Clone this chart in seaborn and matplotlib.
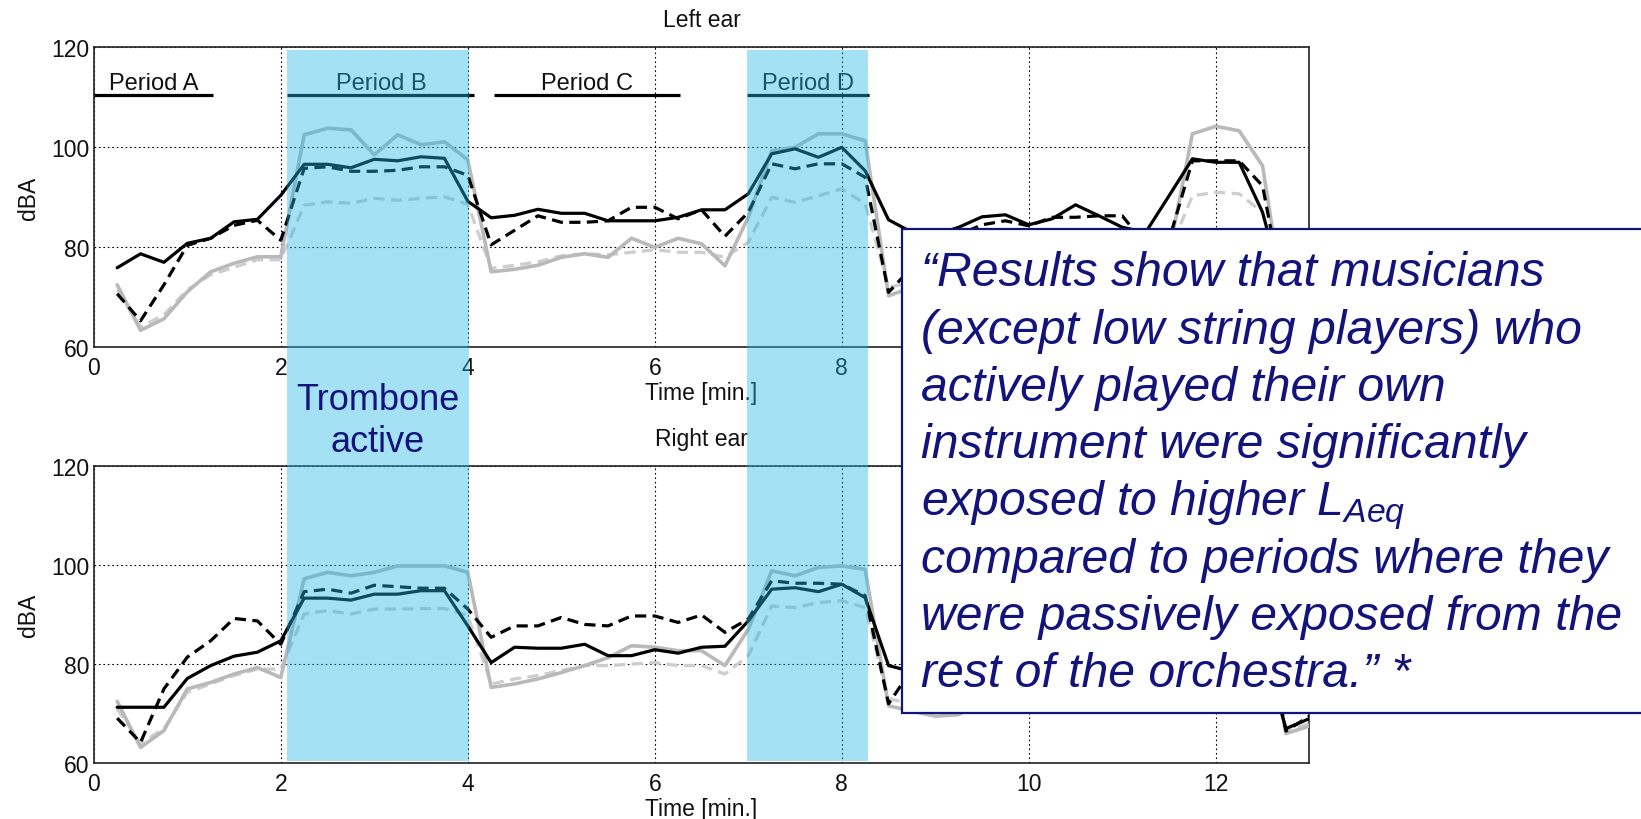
import numpy as np
import matplotlib
matplotlib.use("Agg")
import matplotlib.pyplot as plt
import seaborn as sns
from matplotlib.patches import Rectangle
from matplotlib.transforms import blended_transform_factory

sns.set_style("white")
plt.rcParams["font.family"] = ["Liberation Sans", "DejaVu Sans"]
plt.rcParams["mathtext.fontset"] = "custom"
plt.rcParams["mathtext.it"] = "Liberation Sans:italic"
plt.rcParams["mathtext.rm"] = "Liberation Sans"

# ---- data: sound level (dBA) every 15 s, 0.25 ... 13.0 min ----
time_min = np.arange(1, 53) * 0.25

left_black_solid = [
    75.9, 78.7, 77.0, 80.8, 81.8, 85.1, 85.6, 90.4, 96.6, 96.6, 95.9, 97.6, 97.3,
    98.1, 97.8, 89.2, 85.9, 86.4, 87.6, 86.8, 86.8, 85.3, 85.3, 85.3, 86.0, 87.5,
    87.5, 90.7, 98.7, 99.7, 98.0, 100.0, 95.3, 85.5, 83.0, 82.5, 84.0, 86.1, 86.5,
    84.5, 85.7, 88.5, 86.3, 84.0, 83.0, 90.3, 97.7, 97.0, 97.0, 87.0, 69.5, 70.0]
left_black_dashed = [
    70.7, 65.3, 72.5, 80.4, 81.8, 84.4, 85.4, 81.4, 95.8, 96.1, 95.2, 95.2, 95.4,
    96.1, 96.1, 94.4, 80.5, 83.4, 86.3, 85.0, 85.0, 85.3, 88.0, 88.0, 85.7, 87.5,
    82.2, 87.0, 96.7, 95.7, 96.7, 96.7, 94.0, 71.0, 76.0, 80.0, 82.5, 84.5, 85.3,
    84.3, 86.0, 86.0, 86.3, 86.3, 80.5, 81.5, 97.3, 97.3, 97.3, 92.3, 68.0, 69.0]
left_grey_solid = [
    72.5, 63.4, 65.7, 71.1, 75.1, 76.8, 78.1, 78.1, 102.5, 103.8, 103.5, 98.5, 102.5,
    100.5, 101.1, 97.5, 75.1, 75.6, 76.4, 78.0, 78.7, 78.0, 81.8, 80.0, 81.8, 80.7,
    76.3, 86.0, 99.3, 100.0, 102.7, 102.7, 101.3, 70.3, 72.0, 75.0, 77.0, 78.0, 79.0,
    78.0, 79.0, 80.0, 79.0, 78.0, 77.0, 79.0, 102.7, 104.2, 103.3, 96.3, 66.5, 68.0]
left_grey_dashed = [
    71.5, 64.1, 66.5, 71.5, 74.5, 76.0, 77.5, 77.5, 88.4, 89.1, 88.8, 89.8, 89.4,
    89.8, 90.1, 88.6, 75.8, 76.4, 77.1, 78.3, 78.7, 78.5, 79.0, 79.5, 79.0, 79.0,
    78.0, 81.0, 90.0, 89.0, 90.3, 91.7, 88.7, 72.0, 73.0, 75.5, 77.0, 78.0, 78.5,
    78.0, 78.5, 79.0, 78.5, 78.0, 77.5, 79.0, 90.3, 91.0, 90.7, 87.0, 67.0, 68.0]

right_black_solid = [
    71.3, 71.3, 71.3, 77.1, 79.7, 81.6, 82.4, 84.7, 93.3, 93.3, 92.9, 94.1, 94.1,
    94.8, 94.8, 87.7, 80.3, 83.4, 83.2, 83.2, 84.0, 81.7, 81.7, 82.9, 82.2, 83.4,
    83.6, 88.7, 95.1, 95.4, 94.6, 96.1, 93.4, 79.7, 78.5, 79.0, 80.5, 82.0, 82.5,
    81.5, 82.0, 84.0, 83.0, 81.5, 80.0, 86.0, 94.0, 94.5, 94.0, 84.0, 67.0, 69.0]
right_black_dashed = [
    69.1, 64.2, 75.0, 81.4, 84.7, 89.2, 88.7, 84.0, 94.6, 95.1, 94.3, 95.9, 95.6,
    95.3, 95.3, 91.1, 85.4, 87.7, 87.7, 89.4, 88.0, 87.7, 89.7, 89.7, 88.4, 89.9,
    86.4, 89.1, 96.8, 96.3, 96.3, 96.1, 93.8, 72.0, 79.0, 81.0, 84.0, 86.0, 86.5,
    85.5, 87.0, 87.5, 87.5, 87.0, 82.0, 84.0, 95.0, 95.5, 95.0, 90.0, 66.5, 69.5]
right_grey_solid = [
    72.5, 63.2, 66.6, 75.0, 76.3, 78.0, 79.3, 77.3, 97.2, 98.5, 97.8, 98.5, 99.8,
    99.8, 99.8, 98.5, 75.3, 76.0, 77.0, 78.3, 79.7, 81.3, 83.7, 83.4, 82.7, 82.7,
    79.7, 87.0, 98.8, 97.8, 99.5, 99.8, 99.1, 71.6, 70.5, 69.5, 69.8, 72.5, 74.0,
    74.5, 75.0, 76.0, 75.5, 75.0, 74.5, 78.0, 98.0, 99.0, 98.5, 92.0, 66.0, 67.5]
right_grey_dashed = [
    71.0, 64.0, 67.0, 74.3, 76.0, 77.7, 79.0, 79.0, 90.1, 90.8, 90.1, 91.1, 91.1,
    91.2, 91.2, 89.8, 76.0, 77.0, 77.7, 78.7, 79.7, 79.7, 80.0, 80.3, 79.7, 79.7,
    78.0, 81.7, 91.7, 91.4, 92.4, 92.8, 91.4, 73.0, 72.0, 71.5, 72.0, 74.0, 75.0,
    75.5, 76.0, 76.5, 76.0, 75.5, 75.0, 78.0, 90.0, 91.0, 90.5, 86.0, 66.5, 68.0]

period_labels = ["Period A", "Period B", "Period C", "Period D"]
period_start = [0.0, 2.07, 4.28, 6.99]
period_end = [1.28, 4.07, 6.27, 8.29]
period_level = 110.5

active_start = [2.07, 6.99]
active_end = [4.01, 8.28]

x_ticks = [0, 2, 4, 6, 8, 10, 12]
y_ticks = [60, 80, 100, 120]

quote_lines = [
    "\u201cResults show that musicians",
    "(except low string players) who",
    "actively played their own",
    "instrument were significantly",
    "exposed to higher $L_{Aeq}$",
    "compared to periods where they",
    "were passively exposed from the",
    "rest of the orchestra.\u201d *",
]

# ---- figure ----
W, H = 1641, 820
fig = plt.figure(figsize=(W / 100, H / 100), dpi=100)
fig.patch.set_facecolor("white")

ax_l = fig.add_axes([93.8 / W, 1 - 348.3 / H, 1215.5 / W, 300 / H])
ax_r = fig.add_axes([93.8 / W, 1 - 764.3 / H, 1215.5 / W, 297.6 / H])

navy = "#13137c"
grey1 = "#b9b9b9"
grey2 = "#cdcdcd"


def draw_panel(ax, title, black_solid, black_dashed, grey_solid, grey_dashed):
    sns.lineplot(x=time_min, y=grey_dashed, ax=ax, color=grey2, lw=2.3,
                 linestyle=(0, (3.5, 2.0)), zorder=3)
    sns.lineplot(x=time_min, y=grey_solid, ax=ax, color=grey1, lw=2.6, zorder=3)
    sns.lineplot(x=time_min, y=black_dashed, ax=ax, color="black", lw=2.3,
                 linestyle=(0, (3.5, 2.0)), zorder=4)
    sns.lineplot(x=time_min, y=black_solid, ax=ax, color="black", lw=2.3, zorder=5)
    ax.set_xlim(0, 13)
    ax.set_ylim(60, 120)
    ax.set_xticks(x_ticks)
    ax.set_yticks(y_ticks)
    ax.grid(True, color="black", lw=0.8, linestyle=(0, (1.5, 2.5)))
    for s in ax.spines.values():
        s.set_visible(True)
        s.set_color("#222222")
        s.set_linewidth(1.2)
    ax.tick_params(direction="in", length=5, width=1, labelsize=16.5,
                   colors="#111111")
    ax.tick_params(axis="x", pad=6)
    ax.tick_params(axis="y", pad=3)
    ax.set_xlabel("Time [min.]", fontsize=16.5, labelpad=2, color="#111111")
    ax.set_ylabel("dBA", fontsize=16.5, labelpad=8, color="#111111")
    ax.set_title(title, fontsize=16.5, pad=15, color="#111111")


draw_panel(ax_l, "Left ear", left_black_solid, left_black_dashed,
           left_grey_solid, left_grey_dashed)
draw_panel(ax_r, "Right ear", right_black_solid, right_black_dashed,
           right_grey_solid, right_grey_dashed)

# the quotation box sits over the upper panel's 10 and 12 labels
for lbl, tick in zip(ax_l.get_xticklabels(), x_ticks):
    if tick >= 10:
        lbl.set_visible(False)

# period bars with labels above them
for lab, a, b in zip(period_labels, period_start, period_end):
    ax_l.plot([a, b], [period_level, period_level], color="black", lw=2.3,
              solid_capstyle="butt", zorder=6, clip_on=False)
    ax_l.text((a + b) / 2, period_level + 1.1, lab, ha="center", va="baseline",
              fontsize=17, color="#111111", zorder=6)

# trombone-active bands spanning both panels
band_tf = blended_transform_factory(ax_l.transData, fig.transFigure)
band_top = 1 - 50.7 / H
band_bot = 1 - 761.7 / H
for a, b in zip(active_start, active_end):
    fig.add_artist(Rectangle((a, band_bot), b - a, band_top - band_bot,
                             transform=band_tf, facecolor="#25b7e8",
                             alpha=0.41, edgecolor="none", zorder=2))

fig.text((active_start[0] + active_end[0]) / 2, 1 - 410 / H, "Trombone",
         transform=band_tf, ha="center", va="baseline", fontsize=26,
         color=navy, zorder=7)
fig.text((active_start[0] + active_end[0]) / 2, 1 - 452 / H, "active",
         transform=band_tf, ha="center", va="baseline", fontsize=26,
         color=navy, zorder=7)

# quotation box
fig.add_artist(Rectangle((902 / W, 1 - 714 / H), (1660 - 902) / W, (714 - 230) / H,
                         transform=fig.transFigure, facecolor="white",
                         edgecolor=navy, lw=1.6, zorder=8))
for i, line in enumerate(quote_lines):
    fig.text(921 / W, 1 - (286.4 + 57.3 * i) / H, line, ha="left", va="baseline",
             fontsize=34.7, style="italic", color=navy, zorder=9)

fig.savefig("out.png", dpi=100, facecolor="white")
